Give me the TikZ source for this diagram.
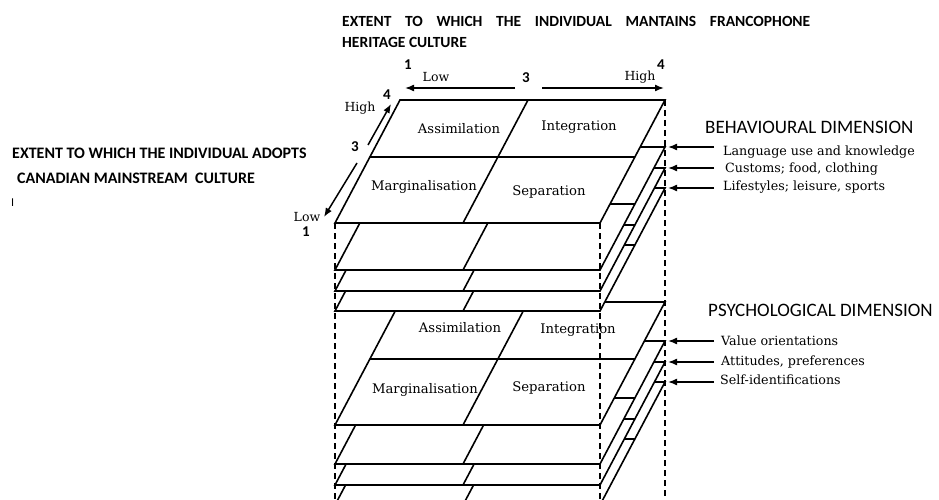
\documentclass[tikz,border=0pt]{standalone}
\usepackage{fontspec}
\setmainfont{DejaVu Serif}
\newfontfamily\calib{Carlito}
\usetikzlibrary{arrows.meta}
\tikzset{
  plate/.style={fill=white, draw=black, line width=1.6pt, line join=miter},
  edgeline/.style={line width=1.6pt},
  vdash/.style={line width=1.6pt, dash pattern=on 6pt off 4pt},
  arr/.style={line width=1.5pt, -{Latex[length=9pt,width=7pt]}},
  cell/.style={font=\fontsize{13.2}{15}\selectfont, inner sep=0pt, anchor=base},
  item/.style={font=\fontsize{12.7}{14}\selectfont, inner sep=0pt, anchor=base west},
  axis/.style={font=\fontsize{12.5}{14}\selectfont, inner sep=0pt},
  num/.style={font=\calib\bfseries\fontsize{15}{17}\selectfont, inner sep=0pt},
  dim/.style={font=\calib\fontsize{19}{21}\selectfont, inner sep=0pt, anchor=base west},
  ttl/.style={font=\calib\bfseries\fontsize{15.5}{18}\selectfont, inner sep=0pt, anchor=base west},
  lttl/.style={font=\calib\bfseries\fontsize{16}{18}\selectfont, inner sep=0pt, anchor=base west},
}
\newcommand\drawplate[2]{%
  \begin{scope}[shift={(0,#1)}]
    \filldraw[plate] (400,100) coordinate (#2bl) -- (665,100) coordinate (#2br)
      -- (600,223) coordinate (#2fr) -- (335,223) coordinate (#2fl) -- cycle;
    \draw[edgeline] (370,157) -- (635,157);
    \draw[edgeline] (528,100) -- (463,223);
  \end{scope}}
\begin{document}
\begin{tikzpicture}[x=1pt, y=-1pt]
\useasboundingbox (0,0) rectangle (939,500);
\clip (0,0) rectangle (939,500);
\fill[white] (0,0) rectangle (939,500);

% psychological stack (drawn from the bottom up)
\drawplate{282}{pd}
\drawplate{262}{pc}
\drawplate{241}{pb}
\drawplate{202}{pa}
\node[cell] (pas) at (460,332.5) {Assimilation};
\node[cell] (pin) at (578,333) {Integration};
\node[cell] (pma) at (425,393.5) {Marginalisation};
\node[cell] (pse) at (549,391.5) {Separation};

% behavioural stack
\drawplate{88}{bd}
\drawplate{68}{bc}
\drawplate{47}{bb}
\drawplate{0}{ba}
\node[cell] (bas) at (459,134) {Assimilation};
\node[cell] (bin) at (579,131) {Integration};
\node[cell] (bma) at (424,190.5) {Marginalisation};
\node[cell] (bse) at (549,195) {Separation};

% vertical dashed edges
\coordinate (dl) at (335,500);
\coordinate (dm) at (600,500);
\coordinate (dr) at (665,500);
\draw[vdash] (bafl) -- (dl);
\draw[vdash] (bafr) -- (dm);
\draw[vdash] (babr) -- (dr);

% top axis
\coordinate (tl0) at (515,88);
\coordinate (tl1) at (405,88);
\coordinate (tr0) at (542,88);
\coordinate (tr1) at (664,88);
\draw[arr] (tl0) -- (tl1);
\draw[arr] (tr0) -- (tr1);
\node[num] (t1) at (408,65) {1};
\node[axis] (tlow) at (436,77) {Low};
\node[num] (t3) at (526,78) {3};
\node[axis] (thigh) at (640,77) {High};
\node[num] (t4) at (661,65) {4};

% left axis
\coordinate (lu0) at (368,145);
\coordinate (lu1) at (391,104);
\coordinate (ld0) at (357,163);
\coordinate (ld1) at (324,217);
\draw[arr] (lu0) -- (lu1);
\draw[arr] (ld0) -- (ld1);
\node[num] (l4) at (387,95) {4};
\node[axis] (lhigh) at (360,108) {High};
\node[num] (l3) at (355,147) {3};
\node[axis] (llow) at (307,217) {Low};
\node[num] (l1) at (306,232) {1};

% behavioural labels
\node[dim] (bdim) at (705,133) {BEHAVIOURAL DIMENSION};
\node[item] (i1) at (723,155) {Language use and knowledge};
\node[item] (i2) at (725,172) {Customs; food, clothing};
\node[item] (i3) at (723,190.5) {Lifestyles; leisure, sports};
\coordinate (a1) at (714,147);
\coordinate (a2) at (714,168);
\coordinate (a3) at (714,188);
\draw[arr, shorten >=3pt] (a1) -- (bbbr);
\draw[arr, shorten >=3pt] (a2) -- (bcbr);
\draw[arr, shorten >=3pt] (a3) -- (bdbr);

% psychological labels
\node[dim] (pdim) at (708,316.5) {PSYCHOLOGICAL DIMENSION};
\node[item] (j1) at (721,345) {Value orientations};
\node[item] (j2) at (721,365) {Attitudes, preferences};
\node[item] (j3) at (720,384.5) {Self-identifications};
\coordinate (b1) at (714,341);
\coordinate (b2) at (714,362);
\coordinate (b3) at (714,382);
\draw[arr, shorten >=3pt] (b1) -- (pbbr);
\draw[arr, shorten >=3pt] (b2) -- (pcbr);
\draw[arr, shorten >=3pt] (b3) -- (pdbr);

% titles
\node[ttl] (top1) at (342,27) {\makebox[468pt][s]{EXTENT TO WHICH THE INDIVIDUAL MANTAINS FRANCOPHONE}};
\node[ttl] (top2) at (342,48) {HERITAGE CULTURE};
\node[lttl] (left1) at (12,158) {EXTENT TO WHICH THE INDIVIDUAL ADOPTS};
\node[lttl] (left2) at (17,183) {CANADIAN MAINSTREAM\ \ CULTURE};
\node[font=\calib\fontsize{12}{14}\selectfont, inner sep=0pt, anchor=base west] (bar) at (11,206) {I};
\end{tikzpicture}
\end{document}
